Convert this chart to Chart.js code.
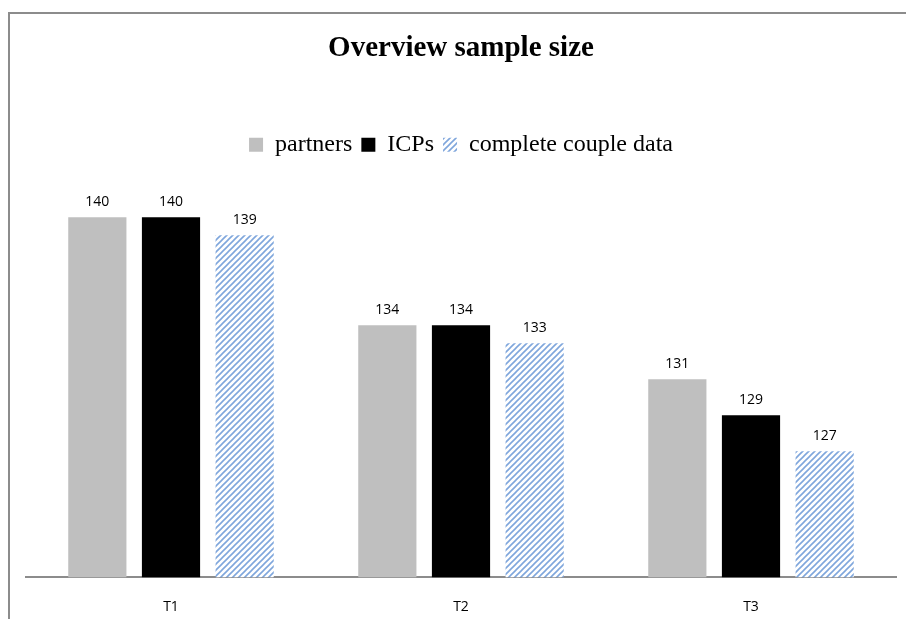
<!DOCTYPE html>
<html>
<head>
<meta charset="utf-8">
<script src="https://cdn.jsdelivr.net/npm/chart.js@4"></script>
<style>
  html, body { margin: 0; padding: 0; background: #fff; }
  #wrap { position: relative; width: 906px; height: 619px; overflow: hidden; }
  #frame { position: absolute; left: 8px; top: 12px; width: 1000px; height: 700px;
           border-left: 2px solid #8c8c8c; border-top: 2px solid #8c8c8c; box-sizing: border-box; }
  canvas { position: absolute; left: 0; top: 0; }
</style>
</head>
<body>
<div id="wrap">
  <div id="frame"></div>
  <canvas id="sampleChart" width="906" height="640"></canvas>
</div>
<script>
const waves = ['T1', 'T2', 'T3'];
const partners = [140, 134, 131];
const icps = [140, 134, 129];
const coupleData = [139, 133, 127];

// diagonal hatch like the Excel pattern fill
function hatch() {
  const c = document.createElement('canvas');
  c.width = 6; c.height = 6;
  const g = c.getContext('2d');
  g.fillStyle = '#fff';
  g.fillRect(0, 0, 6, 6);
  g.strokeStyle = '#7fa6dc';
  g.lineWidth = 1.6;
  g.beginPath();
  g.moveTo(-1, 7); g.lineTo(7, -1);
  g.moveTo(-4, 4); g.lineTo(4, -4);
  g.moveTo(2, 10); g.lineTo(10, 2);
  g.stroke();
  return g.createPattern(c, 'repeat');
}

const valueLabels = {
  id: 'valueLabels',
  afterDatasetsDraw(chart) {
    const ctx = chart.ctx;
    ctx.save();
    ctx.font = '14px "Open Sans", sans-serif';
    ctx.fillStyle = '#000';
    ctx.textAlign = 'center';
    ctx.textBaseline = 'bottom';
    chart.data.datasets.forEach((ds, i) => {
      chart.getDatasetMeta(i).data.forEach((bar, j) => {
        ctx.fillText(ds.data[j], bar.x, bar.y - 8);
      });
    });
    ctx.restore();
  }
};

const ctx = document.getElementById('sampleChart').getContext('2d');

const sampleChart = new Chart(ctx, {
  type: 'bar',
  data: {
    labels: waves,
    datasets: [
      { label: 'partners', data: partners, backgroundColor: '#bfbfbf' },
      { label: 'ICPs', data: icps, backgroundColor: '#000000' },
      { label: 'complete couple data', data: coupleData, backgroundColor: hatch() }
    ]
  },
  options: {
    responsive: false,
    animation: false,
    layout: { padding: { left: 26, right: 10, bottom: 4 } },
    barPercentage: 0.79,
    categoryPercentage: 0.762,
    plugins: {
      title: {
        display: true,
        text: 'Overview sample size',
        color: '#000',
        font: { family: '"Liberation Serif", serif', size: 29, weight: 'bold' },
        padding: { top: 31, bottom: 58 }
      },
      legend: {
        labels: {
          color: '#000',
          font: { family: '"Liberation Serif", serif', size: 24 },
          boxWidth: 14,
          boxHeight: 14,
          padding: 9
        }
      },
      tooltip: { enabled: false }
    },
    scales: {
      x: {
        grid: { display: false, drawTicks: false },
        border: { color: '#8c8c8c', width: 2 },
        ticks: { color: '#000', font: { family: '"Open Sans", sans-serif', size: 14 }, padding: 21 }
      },
      y: {
        display: false,
        min: 120,
        max: 142.8
      }
    }
  },
  plugins: [valueLabels]
});
</script>
</body>
</html>
